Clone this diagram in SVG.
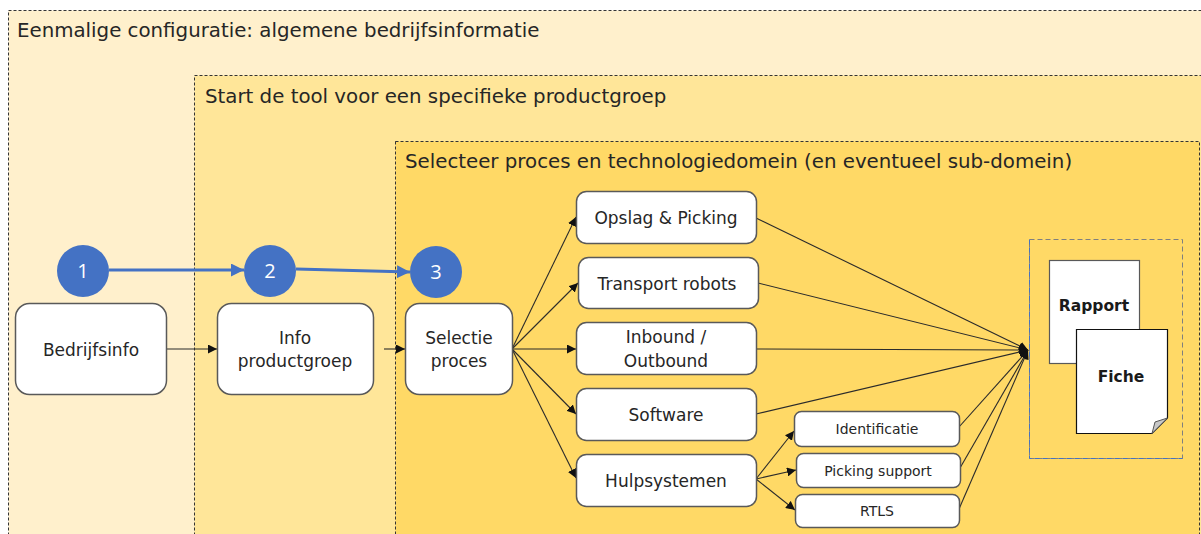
<svg xmlns="http://www.w3.org/2000/svg" width="1201" height="534" viewBox="0 0 1201 534">
  <style>
    .zone { stroke: #333; stroke-width: 1; stroke-dasharray: 3 2; }
    .title { font-family: "DejaVu Sans", "Liberation Sans", sans-serif; font-size: 19.8px; fill: #262626; }
    .box { fill: #fff; stroke: #595959; stroke-width: 1.5; }
    .lbl { font-family: "DejaVu Sans", "Liberation Sans", sans-serif; font-size: 17px; fill: #262626; text-anchor: middle; }
    .sm { font-size: 14px; }
    .step { fill: #4472C4; }
    .num { font-family: "Open Sans", "Liberation Sans", sans-serif; font-size: 20px; fill: #fff; text-anchor: middle; }
    .edge { stroke: #2b2b2b; stroke-width: 1.1; fill: none; }
    .flow { stroke: #4472C4; stroke-width: 3; fill: none; }
    .doc { font-family: "DejaVu Sans", "Liberation Sans", sans-serif; font-size: 15.5px; font-weight: bold; fill: #1a1a1a; text-anchor: middle; }
  </style>
  <defs>
    <marker id="arr" viewBox="0 0 10 10" refX="10" refY="5" markerWidth="9" markerHeight="9" markerUnits="userSpaceOnUse" orient="auto">
      <path d="M0,0 L10,5 L0,10 z" fill="#111"/>
    </marker>
    <marker id="arrBlue" viewBox="0 0 10 10" refX="10" refY="5" markerWidth="13" markerHeight="13" markerUnits="userSpaceOnUse" orient="auto">
      <path d="M0,0 L10,5 L0,10 z" fill="#4472C4"/>
    </marker>
  </defs>

  <rect width="1201" height="534" fill="#fff"/>

  <!-- nested scope zones -->
  <g id="zone-company">
    <rect class="zone" x="8.5" y="10.5" width="1210" height="540" fill="#FFF0CC"/>
    <text class="title" x="17" y="37">Eenmalige configuratie: algemene bedrijfsinformatie</text>
  </g>
  <g id="zone-productgroup">
    <rect class="zone" x="194.5" y="75.5" width="1020" height="480" fill="#FFE699"/>
    <text class="title" x="205" y="103">Start de tool voor een specifieke productgroep</text>
  </g>
  <g id="zone-process">
    <rect class="zone" x="395.5" y="141.5" width="804" height="420" fill="#FFD966"/>
    <text class="title" x="405" y="168">Selecteer proces en technologiedomein (en eventueel sub-domein)</text>
  </g>

  <!-- connectors -->
  <g id="connectors">
    <line class="flow" x1="109" y1="270" x2="244" y2="270" marker-end="url(#arrBlue)"/>
    <line class="flow" x1="296" y1="269" x2="410" y2="272" marker-end="url(#arrBlue)"/>

    <line class="edge" x1="167" y1="349" x2="217" y2="349" marker-end="url(#arr)"/>
    <line class="edge" x1="384" y1="349" x2="405" y2="349" marker-end="url(#arr)"/>

    <line class="edge" x1="512" y1="349" x2="576" y2="217" marker-end="url(#arr)"/>
    <line class="edge" x1="512" y1="349" x2="578" y2="283" marker-end="url(#arr)"/>
    <line class="edge" x1="512" y1="349" x2="576" y2="349" marker-end="url(#arr)"/>
    <line class="edge" x1="512" y1="349" x2="576" y2="414" marker-end="url(#arr)"/>
    <line class="edge" x1="512" y1="349" x2="576" y2="478" marker-end="url(#arr)"/>

    <line class="edge" x1="756" y1="479" x2="794" y2="431" marker-end="url(#arr)"/>
    <line class="edge" x1="756" y1="479" x2="796" y2="470" marker-end="url(#arr)"/>
    <line class="edge" x1="756" y1="479" x2="795" y2="510" marker-end="url(#arr)"/>

    <line class="edge" x1="756" y1="218" x2="1028" y2="350" marker-end="url(#arr)"/>
    <line class="edge" x1="758" y1="283" x2="1028" y2="350" marker-end="url(#arr)"/>
    <line class="edge" x1="756" y1="349" x2="1028" y2="350" marker-end="url(#arr)"/>
    <line class="edge" x1="756" y1="414" x2="1028" y2="350" marker-end="url(#arr)"/>
    <line class="edge" x1="959" y1="427" x2="1028" y2="350" marker-end="url(#arr)"/>
    <line class="edge" x1="960" y1="468" x2="1028" y2="350" marker-end="url(#arr)"/>
    <line class="edge" x1="959" y1="509" x2="1028" y2="350" marker-end="url(#arr)"/>
  </g>

  <!-- step markers -->
  <g id="step-1"><circle class="step" cx="83" cy="271" r="26"/><text class="num" x="83" y="278">1</text></g>
  <g id="step-2"><circle class="step" cx="270" cy="271" r="26"/><text class="num" x="270" y="278">2</text></g>
  <g id="step-3"><circle class="step" cx="436" cy="272" r="26"/><text class="num" x="436" y="279">3</text></g>

  <!-- main flow -->
  <g id="bedrijfsinfo">
    <rect class="box" x="15.5" y="303.5" width="151" height="91" rx="14"/>
    <text class="lbl" x="91" y="356">Bedrijfsinfo</text>
  </g>
  <g id="info-productgroep">
    <rect class="box" x="217.5" y="303.5" width="156" height="91" rx="14"/>
    <text class="lbl" x="295" y="344">Info</text>
    <text class="lbl" x="295" y="367">productgroep</text>
  </g>
  <g id="selectie-proces">
    <rect class="box" x="405.5" y="303.5" width="107" height="91" rx="14"/>
    <text class="lbl" x="459" y="344">Selectie</text>
    <text class="lbl" x="459" y="367">proces</text>
  </g>

  <!-- technology domains -->
  <g id="opslag-picking">
    <rect class="box" x="576.5" y="191.5" width="180" height="52" rx="10"/>
    <text class="lbl" x="666" y="224">Opslag &amp; Picking</text>
  </g>
  <g id="transport-robots">
    <rect class="box" x="578.5" y="257.5" width="180" height="51" rx="10"/>
    <text class="lbl" x="667" y="290">Transport robots</text>
  </g>
  <g id="inbound-outbound">
    <rect class="box" x="576.5" y="322.5" width="180" height="52" rx="10"/>
    <text class="lbl" x="666" y="343">Inbound /</text>
    <text class="lbl" x="666" y="367">Outbound</text>
  </g>
  <g id="software">
    <rect class="box" x="576.5" y="388.5" width="180" height="52" rx="10"/>
    <text class="lbl" x="666" y="421">Software</text>
  </g>
  <g id="hulpsystemen">
    <rect class="box" x="576.5" y="454.5" width="180" height="52" rx="10"/>
    <text class="lbl" x="666" y="487">Hulpsystemen</text>
  </g>

  <!-- sub-domains -->
  <g id="identificatie">
    <rect class="box" x="794.5" y="411.5" width="165" height="35" rx="7"/>
    <text class="lbl sm" x="877" y="434">Identificatie</text>
  </g>
  <g id="picking-support">
    <rect class="box" x="796.5" y="453.5" width="164" height="34" rx="7"/>
    <text class="lbl sm" x="878" y="476">Picking support</text>
  </g>
  <g id="rtls">
    <rect class="box" x="795.5" y="494.5" width="164" height="33" rx="7"/>
    <text class="lbl sm" x="877" y="516">RTLS</text>
  </g>

  <!-- outputs -->
  <g id="output">
    <rect x="1029.5" y="239.5" width="153" height="219" fill="none" stroke="#7f7f7f" stroke-width="1" stroke-dasharray="5 3"/>
    <path d="M1029.5,239.5 V458.5 H1182.5" fill="none" stroke="#4472C4" stroke-width="1" stroke-dasharray="5 3"/>
  </g>
  <g id="rapport">
    <rect x="1049.5" y="260.5" width="90" height="103" fill="#fff" stroke="#595959" stroke-width="1.2"/>
    <text class="doc" x="1094" y="311">Rapport</text>
  </g>
  <g id="fiche">
    <path d="M1076.5,329.5 H1167.5 V418 L1152,433.5 H1076.5 Z" fill="#fff" stroke="#111" stroke-width="1.2"/>
    <path d="M1152,433.5 L1155,422 L1167.5,418 Z" fill="#c8c8c8" stroke="#555" stroke-width="1"/>
    <text class="doc" x="1121" y="382">Fiche</text>
  </g>
</svg>
